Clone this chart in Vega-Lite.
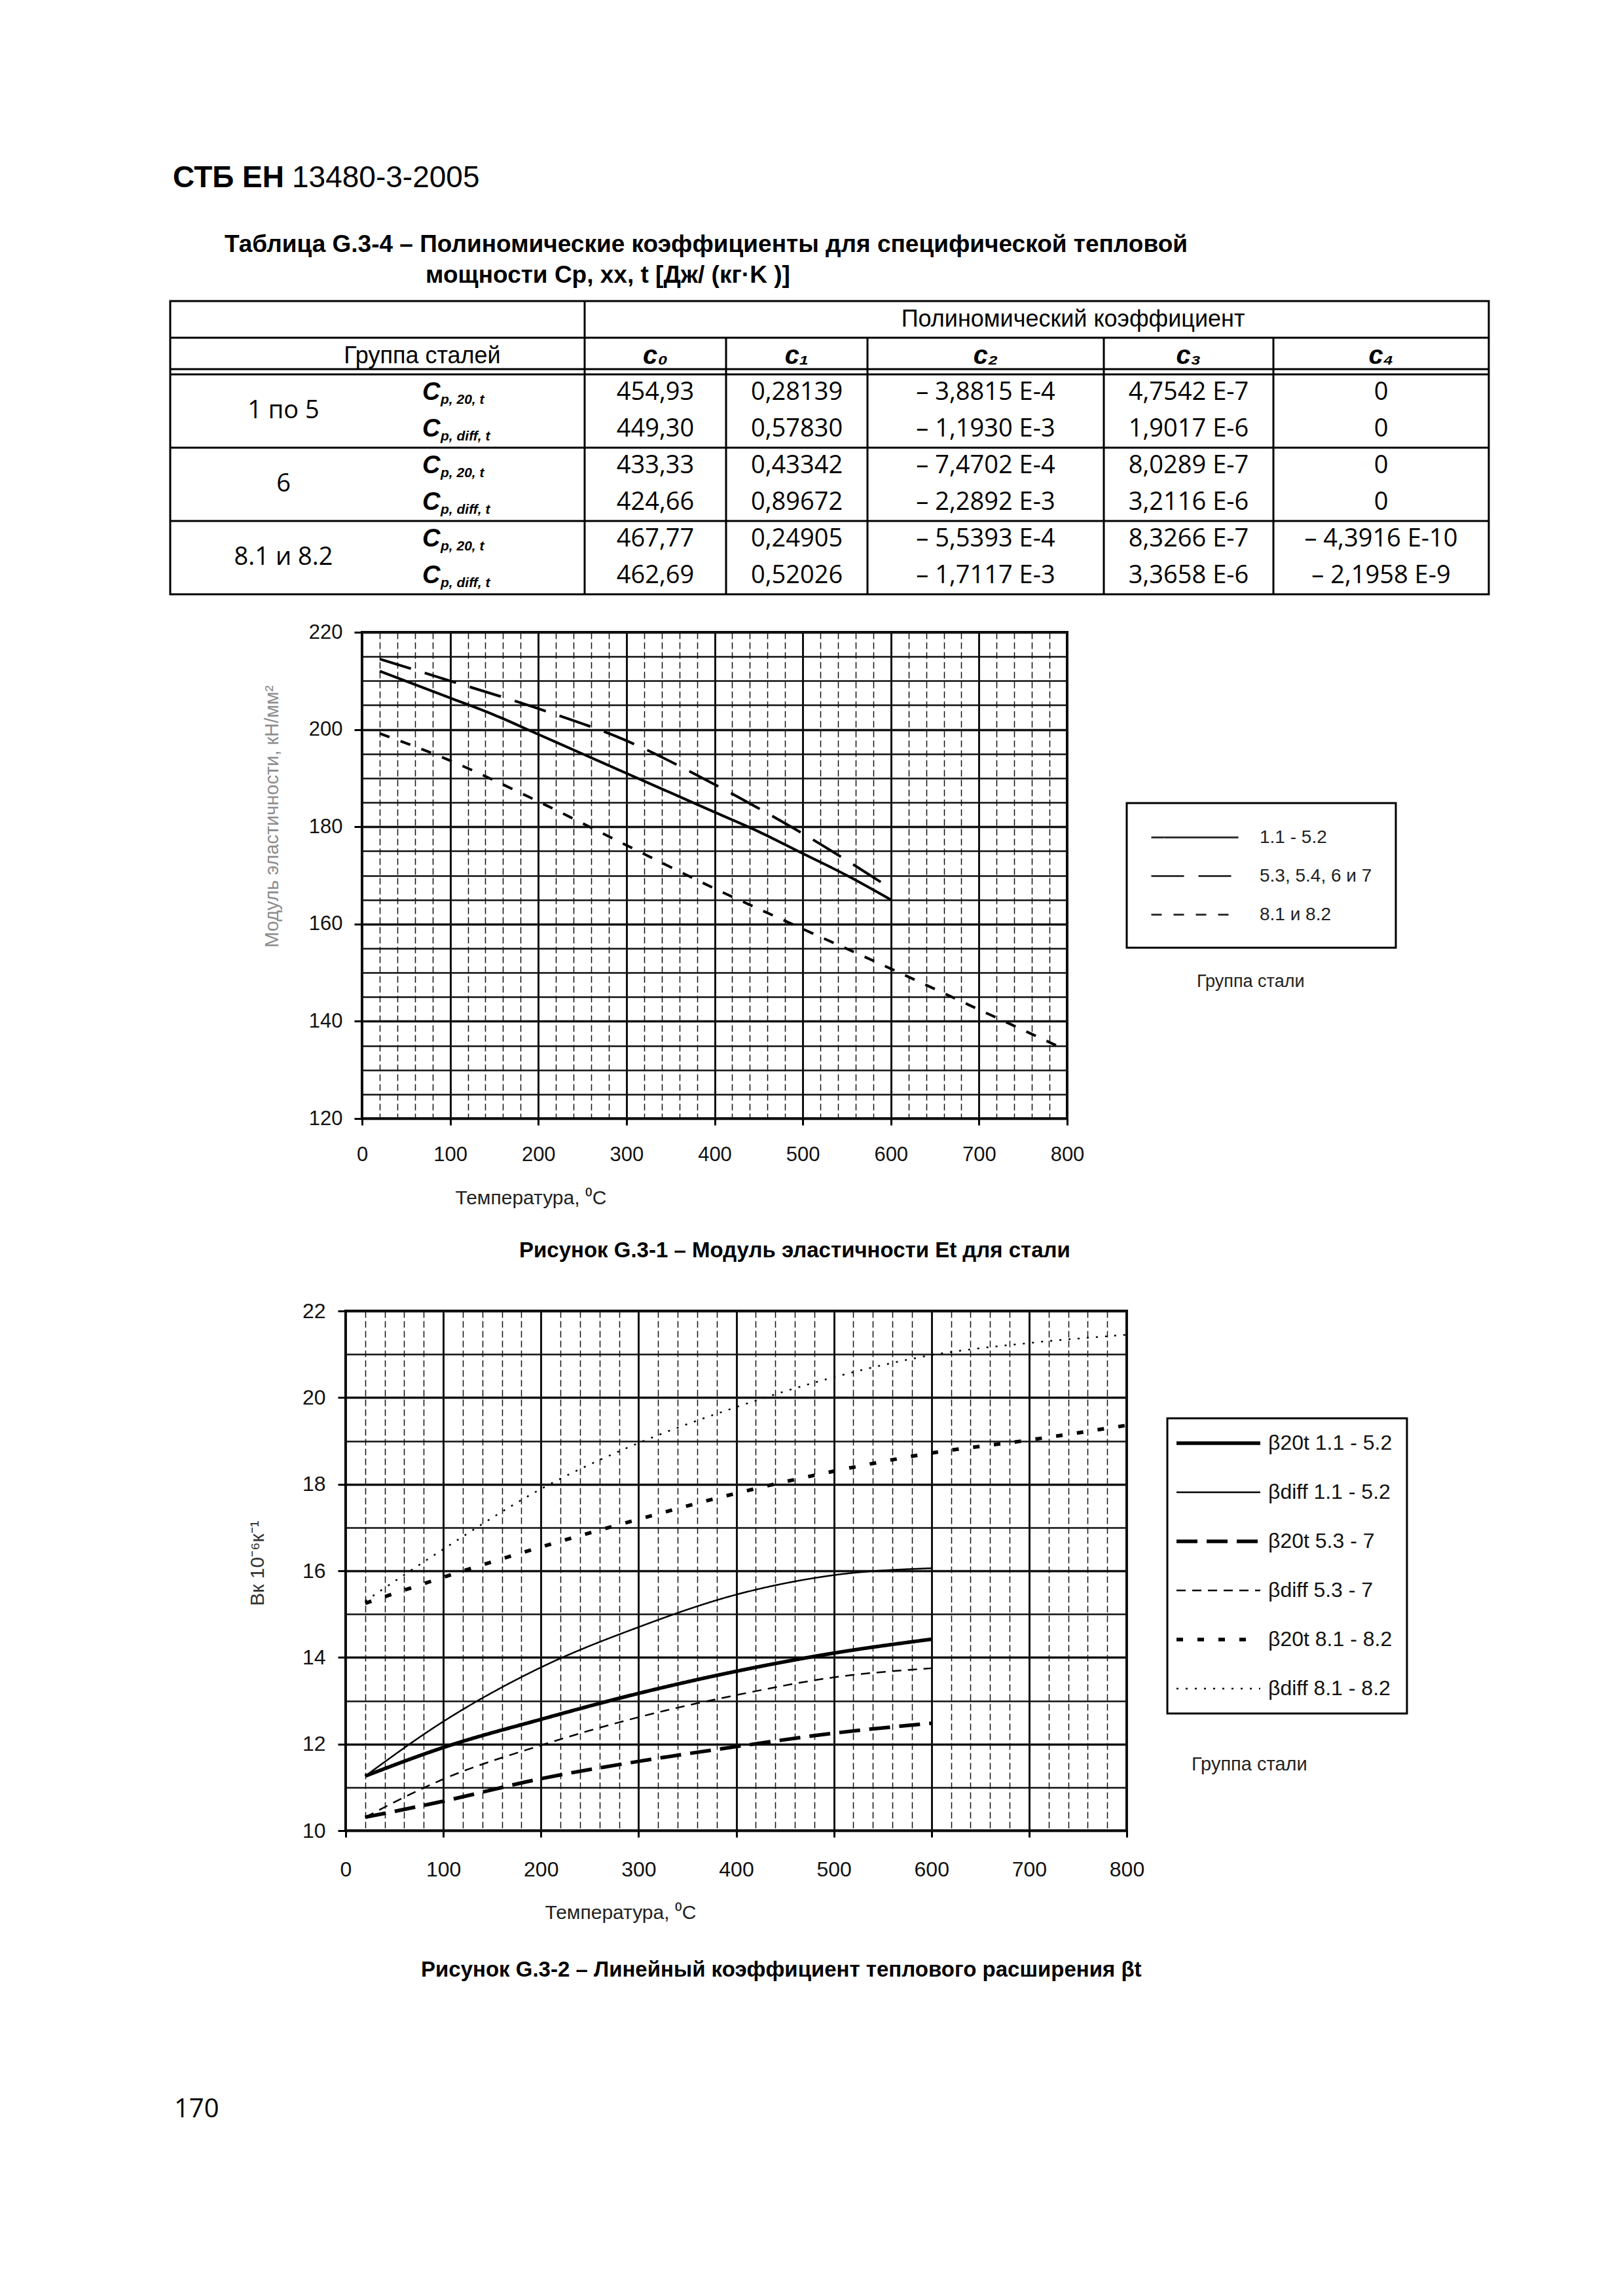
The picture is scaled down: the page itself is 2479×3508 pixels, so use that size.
{
"$schema": "https://vega.github.io/schema/vega-lite/v6.json",
"background": "white",
"padding": {"left": 257, "top": 240, "right": 20, "bottom": 20},
"autosize": {"type": "pad"},
"config": {
  "view": {"stroke": null},
  "font": "Liberation Sans",
  "axis": {"labelFont": "Liberation Sans", "titleFont": "Liberation Sans"},
  "legend": {"labelFont": "Liberation Sans"}
},
"bounds": "flush",
"spacing": 0,
"vconcat": [
  {
    "width": 360, "height": 92,
    "data": {"values": [{"part": "СТБ ЕН"}, {"part": "13480-3-2005"}]},
    "layer": [
      {"transform": [{"filter": "datum.part === 'СТБ ЕН'"}],
       "mark": {"type": "text", "align": "right", "baseline": "alphabetic", "dx": -6, "font": "Liberation Sans", "fontSize": 46, "fontWeight": "bold", "color": "black"},
       "encoding": {"x": {"field": "part", "type": "nominal", "bandPosition": 1, "axis": null, "scale": {"type": "band", "domain": ["СТБ ЕН", "13480-3-2005"], "paddingInner": 0, "paddingOuter": 0}}, "text": {"field": "part"}}},
      {"transform": [{"filter": "datum.part !== 'СТБ ЕН'"}],
       "mark": {"type": "text", "align": "left", "baseline": "alphabetic", "dx": 6, "font": "Liberation Sans", "fontSize": 46, "fontWeight": "normal", "color": "black"},
       "encoding": {"x": {"field": "part", "type": "nominal", "bandPosition": 0, "axis": null, "scale": {"type": "band", "domain": ["СТБ ЕН", "13480-3-2005"], "paddingInner": 0, "paddingOuter": 0}}, "text": {"field": "part"}}}
    ]
  },
  {"width": 1, "height": 128, "data": {"values": []}, "mark": "point",
   "title": {"text": "мощности Cp, xx, t [Дж/ (кг·K )]", "orient": "top", "anchor": "start", "frame": "group", "offset": 0, "dx": 390, "dy": 137, "baseline": "alphabetic", "align": "left", "font": "Liberation Sans", "fontSize": 37, "fontWeight": "bold", "color": "black"}},
  {
    "width": 2014, "height": 448,
    "view": {"stroke": "black", "strokeWidth": 3},
    "title": {"text": "Таблица G.3-4 – Полиномические коэффициенты для специфической тепловой", "orient": "top", "anchor": "start", "frame": "group", "dx": 83, "offset": 74, "dy": 37, "baseline": "alphabetic", "align": "left", "font": "Liberation Sans", "fontSize": 37, "fontWeight": "bold", "color": "black"},
    "layer": [
      {"data": {"values": [{"at": "h2"}, {"at": "r1a"}, {"at": "r2a"}, {"at": "r3a"}]},
       "mark": {"type": "rule", "color": "black", "strokeWidth": 3},
       "encoding": {
         "y": {"field": "at", "type": "ordinal", "bandPosition": 0, "axis": null, "scale": {"type": "band", "domain": ["h1","h2","r1a","r1b","r2a","r2b","r3a","r3b"], "paddingInner": 0, "paddingOuter": 0}},
         "x": {"datum": -2.5, "type": "quantitative", "axis": null, "scale": {"type": "linear", "domain": [-2.5,-2,-1,-0.5,0.5,1.5,2.5,3.5,4.5], "range": [0,173,385,633,849,1065,1426,1685,2014], "nice": false, "zero": false}},
         "x2": {"datum": 4.5}}},
      {"data": {"values": [{"at": "r1a"}]},
       "mark": {"type": "rule", "color": "black", "strokeWidth": 3, "yOffset": -8},
       "encoding": {
         "y": {"field": "at", "type": "ordinal", "bandPosition": 0, "axis": null},
         "x": {"datum": -2.5, "type": "quantitative", "axis": null},
         "x2": {"datum": 4.5}}},
      {"data": {"values": [{"edge": -0.5, "top": "h1"}, {"edge": 0.5, "top": "h2"}, {"edge": 1.5, "top": "h2"}, {"edge": 2.5, "top": "h2"}, {"edge": 3.5, "top": "h2"}]},
       "mark": {"type": "rule", "color": "black", "strokeWidth": 3},
       "encoding": {
         "x": {"field": "edge", "type": "quantitative", "axis": null},
         "y": {"field": "top", "type": "ordinal", "bandPosition": 0, "axis": null},
         "y2": {"value": "height"}}},
      {"data": {"values": [
         {"row": "r1a", "k": 0, "v": "454,93"}, {"row": "r1a", "k": 1, "v": "0,28139"}, {"row": "r1a", "k": 2, "v": "– 3,8815 E-4"}, {"row": "r1a", "k": 3, "v": "4,7542 E-7"}, {"row": "r1a", "k": 4, "v": "0"},
         {"row": "r1b", "k": 0, "v": "449,30"}, {"row": "r1b", "k": 1, "v": "0,57830"}, {"row": "r1b", "k": 2, "v": "– 1,1930 E-3"}, {"row": "r1b", "k": 3, "v": "1,9017 E-6"}, {"row": "r1b", "k": 4, "v": "0"},
         {"row": "r2a", "k": 0, "v": "433,33"}, {"row": "r2a", "k": 1, "v": "0,43342"}, {"row": "r2a", "k": 2, "v": "– 7,4702 E-4"}, {"row": "r2a", "k": 3, "v": "8,0289 E-7"}, {"row": "r2a", "k": 4, "v": "0"},
         {"row": "r2b", "k": 0, "v": "424,66"}, {"row": "r2b", "k": 1, "v": "0,89672"}, {"row": "r2b", "k": 2, "v": "– 2,2892 E-3"}, {"row": "r2b", "k": 3, "v": "3,2116 E-6"}, {"row": "r2b", "k": 4, "v": "0"},
         {"row": "r3a", "k": 0, "v": "467,77"}, {"row": "r3a", "k": 1, "v": "0,24905"}, {"row": "r3a", "k": 2, "v": "– 5,5393 E-4"}, {"row": "r3a", "k": 3, "v": "8,3266 E-7"}, {"row": "r3a", "k": 4, "v": "– 4,3916 E-10"},
         {"row": "r3b", "k": 0, "v": "462,69"}, {"row": "r3b", "k": 1, "v": "0,52026"}, {"row": "r3b", "k": 2, "v": "– 1,7117 E-3"}, {"row": "r3b", "k": 3, "v": "3,3658 E-6"}, {"row": "r3b", "k": 4, "v": "– 2,1958 E-9"}
       ]},
       "mark": {"type": "text", "font": "Open Sans", "fontSize": 38, "align": "center", "baseline": "middle", "color": "black"},
       "encoding": {
         "x": {"field": "k", "type": "quantitative", "axis": null},
         "y": {"field": "row", "type": "ordinal", "axis": null},
         "text": {"field": "v"}}},
      {"data": {"values": [{"grp": "1 по 5", "row": "r1a"}, {"grp": "6", "row": "r2a"}, {"grp": "8.1 и 8.2", "row": "r3a"}]},
       "mark": {"type": "text", "font": "Open Sans", "fontSize": 38, "align": "center", "baseline": "middle", "color": "black"},
       "encoding": {
         "x": {"datum": -2, "type": "quantitative", "axis": null},
         "y": {"field": "row", "type": "ordinal", "bandPosition": 1, "axis": null},
         "text": {"field": "grp"}}},
      {"data": {"values": [{"row": "r1a", "sub": "p, 20, t"}, {"row": "r1b", "sub": "p, diff, t"}, {"row": "r2a", "sub": "p, 20, t"}, {"row": "r2b", "sub": "p, diff, t"}, {"row": "r3a", "sub": "p, 20, t"}, {"row": "r3b", "sub": "p, diff, t"}]},
       "layer": [
         {"mark": {"type": "text", "font": "Liberation Sans", "fontSize": 38, "fontWeight": "bold", "fontStyle": "italic", "align": "left", "baseline": "middle", "color": "black"},
          "encoding": {"x": {"datum": -1, "type": "quantitative", "axis": null}, "y": {"field": "row", "type": "ordinal", "axis": null}, "text": {"value": "C"}}},
         {"mark": {"type": "text", "font": "Liberation Sans", "fontSize": 21, "fontWeight": "bold", "fontStyle": "italic", "align": "left", "baseline": "middle", "dx": 28, "dy": 11, "color": "black"},
          "encoding": {"x": {"datum": -1, "type": "quantitative", "axis": null}, "y": {"field": "row", "type": "ordinal", "axis": null}, "text": {"field": "sub"}}}
       ]},
      {"data": {"values": [{"row": "h2", "k": -1, "v": "Группа сталей"}]},
       "mark": {"type": "text", "font": "Liberation Sans", "fontSize": 36, "align": "center", "baseline": "middle", "color": "black"},
       "encoding": {"x": {"field": "k", "type": "quantitative", "axis": null}, "y": {"field": "row", "type": "ordinal", "axis": null}, "text": {"field": "v"}}},
      {"data": {"values": [{"row": "h2", "k": 0, "v": "c₀"}, {"row": "h2", "k": 1, "v": "c₁"}, {"row": "h2", "k": 2, "v": "c₂"}, {"row": "h2", "k": 3, "v": "c₃"}, {"row": "h2", "k": 4, "v": "c₄"}]},
       "mark": {"type": "text", "font": "Liberation Sans", "fontSize": 40, "fontStyle": "italic", "fontWeight": "bold", "align": "center", "baseline": "middle", "color": "black"},
       "encoding": {"x": {"field": "k", "type": "quantitative", "axis": null}, "y": {"field": "row", "type": "ordinal", "axis": null}, "text": {"field": "v"}}},
      {"data": {"values": [{"row": "h1", "v": "Полиномический коэффициент"}]},
       "mark": {"type": "text", "font": "Liberation Sans", "fontSize": 36, "align": "center", "baseline": "middle", "color": "black"},
       "encoding": {"x": {"datum": 2.37, "type": "quantitative", "axis": null}, "y": {"field": "row", "type": "ordinal", "axis": null}, "text": {"field": "v"}}}
    ]
  },
  {"width": 1, "height": 58, "data": {"values": []}, "mark": "point"},
  {
    "hconcat": [
      {"width": 1, "height": 1, "data": {"values": []}, "mark": "point",
       "title": {"text": "Группа стали", "orient": "top", "anchor": "start", "frame": "group", "offset": 0, "dx": 1568, "dy": 569, "baseline": "alphabetic", "align": "left", "font": "Liberation Sans", "fontSize": 27, "fontWeight": "normal", "color": "#222"}},
      {
        "width": 1077, "height": 743,
        "view": {"stroke": "black", "strokeWidth": 4},
        "title": {"text": "Рисунок G.3-1 – Модуль эластичности Et для стали", "orient": "bottom", "anchor": "start", "frame": "group", "offset": 76, "dx": 240, "baseline": "alphabetic", "align": "left", "font": "Liberation Sans", "fontSize": 33, "fontWeight": "bold", "color": "black"},
        "data": {"values": [
          {"T": 20, "E": 212, "grp": "1.1 - 5.2"}, {"T": 100, "E": 206.5, "grp": "1.1 - 5.2"}, {"T": 150, "E": 203, "grp": "1.1 - 5.2"}, {"T": 200, "E": 199, "grp": "1.1 - 5.2"}, {"T": 250, "E": 195, "grp": "1.1 - 5.2"}, {"T": 300, "E": 191, "grp": "1.1 - 5.2"}, {"T": 350, "E": 187, "grp": "1.1 - 5.2"}, {"T": 400, "E": 183, "grp": "1.1 - 5.2"}, {"T": 450, "E": 179, "grp": "1.1 - 5.2"}, {"T": 500, "E": 174.5, "grp": "1.1 - 5.2"}, {"T": 550, "E": 170, "grp": "1.1 - 5.2"}, {"T": 600, "E": 165, "grp": "1.1 - 5.2"},
          {"T": 20, "E": 214.5, "grp": "5.3, 5.4, 6 и 7"}, {"T": 100, "E": 210, "grp": "5.3, 5.4, 6 и 7"}, {"T": 200, "E": 204.3, "grp": "5.3, 5.4, 6 и 7"}, {"T": 300, "E": 197.7, "grp": "5.3, 5.4, 6 и 7"}, {"T": 400, "E": 188.7, "grp": "5.3, 5.4, 6 и 7"}, {"T": 500, "E": 178.6, "grp": "5.3, 5.4, 6 и 7"}, {"T": 600, "E": 167.3, "grp": "5.3, 5.4, 6 и 7"},
          {"T": 20, "E": 199.2, "grp": "8.1 и 8.2"}, {"T": 100, "E": 193.6, "grp": "8.1 и 8.2"}, {"T": 200, "E": 185.2, "grp": "8.1 и 8.2"}, {"T": 300, "E": 176.2, "grp": "8.1 и 8.2"}, {"T": 400, "E": 167.3, "grp": "8.1 и 8.2"}, {"T": 500, "E": 159, "grp": "8.1 и 8.2"}, {"T": 600, "E": 150.8, "grp": "8.1 и 8.2"}, {"T": 700, "E": 142.4, "grp": "8.1 и 8.2"}, {"T": 800, "E": 134.0, "grp": "8.1 и 8.2"}
        ]},
        "encoding": {
          "x": {"field": "T", "type": "quantitative", "scale": {"domain": [0, 800], "nice": false, "zero": false},
            "axis": {"values": [0,20,40,60,80,100,120,140,160,180,200,220,240,260,280,300,320,340,360,380,400,420,440,460,480,500,520,540,560,580,600,620,640,660,680,700,720,740,760,780,800],
              "labelExpr": "datum.value % 100 === 0 ? datum.label : ''",
              "grid": true, "gridColor": "#111",
              "gridWidth": {"condition": {"test": "datum.value % 100 === 0", "value": 3}, "value": 1.5},
              "gridDash": {"condition": {"test": "datum.value % 100 === 0", "value": []}, "value": [10, 5]},
              "domain": false, "ticks": true, "tickColor": "black", "tickWidth": 3, "tickSize": 10,
              "tickOpacity": {"condition": {"test": "datum.value % 100 === 0", "value": 1}, "value": 0},
              "labelFontSize": 31, "labelColor": "#111", "labelPadding": 30, "labelFlush": false, "labelOverlap": false,
              "title": "Температура, ⁰C", "titleFontSize": 30, "titleFontWeight": "normal", "titleColor": "#222",
              "titleX": 142, "titleY": 130, "titleAlign": "left", "titleBaseline": "alphabetic", "titleAngle": 0}},
          "y": {"field": "E", "type": "quantitative", "scale": {"domain": [120, 220], "nice": false, "zero": false},
            "axis": {"values": [120,125,130,135,140,145,150,155,160,165,170,175,180,185,190,195,200,205,210,215,220],
              "labelExpr": "datum.value % 20 === 0 ? datum.label : ''",
              "grid": true, "gridColor": "#111",
              "gridWidth": {"condition": {"test": "datum.value % 20 === 0", "value": 3.5}, "value": 2.5},
              "domain": false, "ticks": true, "tickColor": "black", "tickWidth": 3, "tickSize": 12,
              "tickOpacity": {"condition": {"test": "datum.value % 20 === 0", "value": 1}, "value": 0},
              "labelFontSize": 31, "labelColor": "#111", "labelPadding": 18, "labelFlush": false, "labelOverlap": false,
              "title": "Модуль эластичности, кН/мм²", "titleColor": "#8c8c8c", "titleFontSize": 29, "titleFontWeight": "normal",
              "titleX": -138, "titleY": 281, "titleAngle": 270, "titleAlign": "center", "titleBaseline": "middle"}},
          "opacity": {"field": "grp", "type": "ordinal",
            "scale": {"domain": ["1.1 - 5.2", "5.3, 5.4, 6 и 7", "8.1 и 8.2"], "range": [1, 1]},
            "legend": {"title": null, "orient": "none", "legendX": 1461, "legendY": 987, "padding": 36, "rowPadding": 28,
              "strokeColor": "black", "symbolType": "M-1,0H7.87", "symbolSize": 900, "symbolStrokeWidth": 3, "symbolStrokeColor": "#333", "symbolFillColor": "transparent",
              "labelFontSize": 28, "labelColor": "#222", "labelOffset": 134, "labelLimit": 400,
              "encode": {"legend": {"update": {"strokeWidth": {"value": 3}}},
                         "symbols": {"update": {"strokeDash": {"signal": "datum.value === '5.3, 5.4, 6 и 7' ? [50, 22] : (datum.value === '8.1 и 8.2' ? [16, 18] : [1, 0])"}}}}}}
        },
        "layer": [
          {"transform": [{"filter": "datum.grp === '1.1 - 5.2'"}],
           "mark": {"type": "line", "color": "black", "strokeWidth": 4, "interpolate": "monotone", "strokeCap": "butt"}},
          {"transform": [{"filter": "datum.grp === '5.3, 5.4, 6 и 7'"}],
           "mark": {"type": "line", "color": "black", "strokeWidth": 4, "interpolate": "monotone", "strokeCap": "butt", "strokeDash": [50, 22]}},
          {"transform": [{"filter": "datum.grp === '8.1 и 8.2'"}],
           "mark": {"type": "line", "color": "black", "strokeWidth": 4, "interpolate": "monotone", "strokeCap": "butt", "strokeDash": [16, 18]}}
        ]
      }
    ],
    "spacing": 292, "bounds": "flush"
  },
  {"width": 1, "height": 1037, "data": {"values": []}, "mark": "point"},
  {
    "hconcat": [
      {"width": 1, "height": 1, "data": {"values": []}, "mark": "point",
       "title": {"text": "Группа стали", "orient": "top", "anchor": "start", "frame": "group", "offset": 0, "dx": 1560, "dy": 731, "baseline": "alphabetic", "align": "left", "font": "Liberation Sans", "fontSize": 29, "fontWeight": "normal", "color": "#222"}},
      {
        "width": 1193, "height": 794,
        "view": {"stroke": "black", "strokeWidth": 4},
        "title": {"text": "Рисунок G.3-2 – Линейный коэффициент теплового расширения βt", "orient": "bottom", "anchor": "start", "frame": "group", "offset": 83, "dx": 115, "baseline": "alphabetic", "align": "left", "font": "Liberation Sans", "fontSize": 33, "fontWeight": "bold", "color": "black"},
        "data": {"values": [
          {"T": 20, "B": 11.26, "kind": "β20t", "series": "β20t 1.1 - 5.2"}, {"T": 100, "B": 11.92, "kind": "β20t", "series": "β20t 1.1 - 5.2"}, {"T": 200, "B": 12.57, "kind": "β20t", "series": "β20t 1.1 - 5.2"}, {"T": 300, "B": 13.17, "kind": "β20t", "series": "β20t 1.1 - 5.2"}, {"T": 400, "B": 13.68, "kind": "β20t", "series": "β20t 1.1 - 5.2"}, {"T": 500, "B": 14.10, "kind": "β20t", "series": "β20t 1.1 - 5.2"}, {"T": 600, "B": 14.42, "kind": "β20t", "series": "β20t 1.1 - 5.2"},
          {"T": 20, "B": 11.26, "kind": "βdiff", "series": "βdiff 1.1 - 5.2"}, {"T": 100, "B": 12.52, "kind": "βdiff", "series": "βdiff 1.1 - 5.2"}, {"T": 200, "B": 13.77, "kind": "βdiff", "series": "βdiff 1.1 - 5.2"}, {"T": 300, "B": 14.70, "kind": "βdiff", "series": "βdiff 1.1 - 5.2"}, {"T": 400, "B": 15.45, "kind": "βdiff", "series": "βdiff 1.1 - 5.2"}, {"T": 500, "B": 15.90, "kind": "βdiff", "series": "βdiff 1.1 - 5.2"}, {"T": 600, "B": 16.06, "kind": "βdiff", "series": "βdiff 1.1 - 5.2"},
          {"T": 20, "B": 10.31, "kind": "β20t", "series": "β20t 5.3 - 7"}, {"T": 100, "B": 10.68, "kind": "β20t", "series": "β20t 5.3 - 7"}, {"T": 200, "B": 11.20, "kind": "β20t", "series": "β20t 5.3 - 7"}, {"T": 300, "B": 11.60, "kind": "β20t", "series": "β20t 5.3 - 7"}, {"T": 400, "B": 11.94, "kind": "β20t", "series": "β20t 5.3 - 7"}, {"T": 500, "B": 12.25, "kind": "β20t", "series": "β20t 5.3 - 7"}, {"T": 600, "B": 12.48, "kind": "β20t", "series": "β20t 5.3 - 7"},
          {"T": 20, "B": 10.31, "kind": "βdiff", "series": "βdiff 5.3 - 7"}, {"T": 100, "B": 11.19, "kind": "βdiff", "series": "βdiff 5.3 - 7"}, {"T": 200, "B": 11.97, "kind": "βdiff", "series": "βdiff 5.3 - 7"}, {"T": 300, "B": 12.62, "kind": "βdiff", "series": "βdiff 5.3 - 7"}, {"T": 400, "B": 13.13, "kind": "βdiff", "series": "βdiff 5.3 - 7"}, {"T": 500, "B": 13.54, "kind": "βdiff", "series": "βdiff 5.3 - 7"}, {"T": 600, "B": 13.75, "kind": "βdiff", "series": "βdiff 5.3 - 7"},
          {"T": 20, "B": 15.25, "kind": "β20t", "series": "β20t 8.1 - 8.2"}, {"T": 100, "B": 15.85, "kind": "β20t", "series": "β20t 8.1 - 8.2"}, {"T": 200, "B": 16.55, "kind": "β20t", "series": "β20t 8.1 - 8.2"}, {"T": 300, "B": 17.19, "kind": "β20t", "series": "β20t 8.1 - 8.2"}, {"T": 400, "B": 17.79, "kind": "β20t", "series": "β20t 8.1 - 8.2"}, {"T": 500, "B": 18.30, "kind": "β20t", "series": "β20t 8.1 - 8.2"}, {"T": 600, "B": 18.72, "kind": "β20t", "series": "β20t 8.1 - 8.2"}, {"T": 700, "B": 19.02, "kind": "β20t", "series": "β20t 8.1 - 8.2"}, {"T": 800, "B": 19.36, "kind": "β20t", "series": "β20t 8.1 - 8.2"},
          {"T": 20, "B": 15.30, "kind": "βdiff", "series": "βdiff 8.1 - 8.2"}, {"T": 100, "B": 16.50, "kind": "βdiff", "series": "βdiff 8.1 - 8.2"}, {"T": 200, "B": 17.89, "kind": "βdiff", "series": "βdiff 8.1 - 8.2"}, {"T": 300, "B": 18.95, "kind": "βdiff", "series": "βdiff 8.1 - 8.2"}, {"T": 400, "B": 19.78, "kind": "βdiff", "series": "βdiff 8.1 - 8.2"}, {"T": 500, "B": 20.47, "kind": "βdiff", "series": "βdiff 8.1 - 8.2"}, {"T": 600, "B": 20.98, "kind": "βdiff", "series": "βdiff 8.1 - 8.2"}, {"T": 700, "B": 21.26, "kind": "βdiff", "series": "βdiff 8.1 - 8.2"}, {"T": 800, "B": 21.45, "kind": "βdiff", "series": "βdiff 8.1 - 8.2"}
        ]},
        "encoding": {
          "x": {"field": "T", "type": "quantitative", "scale": {"domain": [0, 800], "nice": false, "zero": false},
            "axis": {"values": [0,20,40,60,80,100,120,140,160,180,200,220,240,260,280,300,320,340,360,380,400,420,440,460,480,500,520,540,560,580,600,620,640,660,680,700,720,740,760,780,800],
              "labelExpr": "datum.value % 100 === 0 ? datum.label : ''",
              "grid": true, "gridColor": "#111",
              "gridWidth": {"condition": {"test": "datum.value % 100 === 0", "value": 3}, "value": 1.5},
              "gridDash": {"condition": {"test": "datum.value % 100 === 0", "value": []}, "value": [10, 5]},
              "domain": false, "ticks": true, "tickColor": "black", "tickWidth": 3, "tickSize": 10,
              "tickOpacity": {"condition": {"test": "datum.value % 100 === 0", "value": 1}, "value": 0},
              "labelFontSize": 32, "labelColor": "#111", "labelPadding": 34, "labelFlush": false, "labelOverlap": false,
              "title": "Температура, ⁰C", "titleFontSize": 30, "titleFontWeight": "normal", "titleColor": "#222",
              "titleX": 304, "titleY": 134, "titleAlign": "left", "titleBaseline": "alphabetic", "titleAngle": 0}},
          "y": {"field": "B", "type": "quantitative", "scale": {"domain": [10, 22], "nice": false, "zero": false},
            "axis": {"values": [10,10.5,11,11.5,12,12.5,13,13.5,14,14.5,15,15.5,16,16.5,17,17.5,18,18.5,19,19.5,20,20.5,21,21.5,22],
              "format": "d",
              "labelExpr": "datum.value % 2 === 0 ? datum.label : ''",
              "grid": true, "gridColor": "#111",
              "gridWidth": {"condition": {"test": "datum.value % 2 === 0", "value": 3.5}, "value": 2.5},
              "domain": false, "ticks": true, "tickColor": "black", "tickWidth": 3, "tickSize": 12,
              "tickOpacity": {"condition": {"test": "datum.value % 2 === 0", "value": 1}, "value": 0},
              "labelFontSize": 32, "labelColor": "#111", "labelPadding": 19, "labelFlush": false, "labelOverlap": false,
              "title": "Вк 10⁻⁶к⁻¹", "titleColor": "#333", "titleFontSize": 30, "titleFontWeight": "normal",
              "titleX": -135, "titleY": 385, "titleAngle": 270, "titleAlign": "center", "titleBaseline": "middle"}},
          "strokeDash": {"field": "series", "type": "nominal",
            "scale": {"domain": ["β20t 1.1 - 5.2", "βdiff 1.1 - 5.2", "β20t 5.3 - 7", "βdiff 5.3 - 7", "β20t 8.1 - 8.2", "βdiff 8.1 - 8.2"],
                      "range": [[1, 0], [1, 0], [32, 14], [14, 10], [10, 22], [3, 11]]},
            "legend": {"title": null, "orient": "none", "legendX": 1523, "legendY": 1927, "padding": 22, "rowPadding": 43,
              "strokeColor": "black", "symbolType": "M-1,0H4.333", "symbolSize": 2304, "symbolStrokeColor": "black", "symbolStrokeWidth": 3.5,
              "labelFontSize": 32, "labelColor": "#111", "labelOffset": 100, "labelLimit": 400,
              "encode": {"legend": {"update": {"strokeWidth": {"value": 3}}},
                         "symbols": {"update": {"strokeWidth": {"signal": "(datum.value === 'β20t 1.1 - 5.2' || datum.value === 'β20t 5.3 - 7' || datum.value === 'β20t 8.1 - 8.2') ? 5.5 : 2.5"}}}}}}
        },
        "layer": [
          {"transform": [{"filter": "datum.kind === 'β20t'"}],
           "mark": {"type": "line", "color": "black", "strokeWidth": 5.5, "interpolate": "monotone", "strokeCap": "butt"}},
          {"transform": [{"filter": "datum.kind === 'βdiff'"}],
           "mark": {"type": "line", "color": "black", "strokeWidth": 2.5, "interpolate": "monotone", "strokeCap": "butt"}}
        ]
      }
    ],
    "spacing": 267, "bounds": "flush"
  },
  {"width": 1, "height": 1, "data": {"values": []}, "mark": "point",
   "title": {"text": "170", "orient": "top", "anchor": "start", "frame": "group", "offset": 0, "dx": 6, "dy": 1272, "baseline": "alphabetic", "align": "left", "font": "Open Sans", "fontSize": 40, "fontWeight": "normal", "color": "black"}}
]
}
